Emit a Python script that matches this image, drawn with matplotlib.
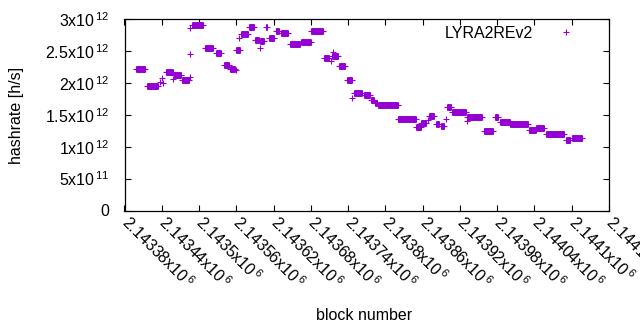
import matplotlib
matplotlib.use("Agg")
import matplotlib.pyplot as plt
from matplotlib.ticker import FuncFormatter, MultipleLocator

plt.rcParams['font.family'] = ['Liberation Sans', 'DejaVu Sans']
plt.rcParams['mathtext.fontset'] = 'custom'
plt.rcParams['mathtext.rm'] = 'Liberation Sans'
plt.rcParams['mathtext.default'] = 'regular'

PURPLE = '#9400d3'
FS = 11.5

# runs of blocks with (almost) the same estimated hashrate
seg_start = [2143398, 2143416, 2143447, 2143460, 2143472, 2143488, 2143509, 2143527,
             2143540, 2143550, 2143560, 2143567, 2143580, 2143590, 2143598, 2143607,
             2143612, 2143624, 2143632, 2143646, 2143664, 2143681, 2143701, 2143714,
             2143726, 2143738, 2143749, 2143765, 2143777, 2143783, 2143788, 2143821,
             2143850, 2143858, 2143871, 2143882, 2143889, 2143899, 2143907, 2143931,
             2143958, 2143977, 2143984, 2144001, 2144032, 2144043, 2144058, 2144090,
             2144100]
seg_end = [2143413, 2143434, 2143458, 2143471, 2143484, 2143507, 2143522, 2143536,
           2143548, 2143558, 2143566, 2143579, 2143588, 2143596, 2143604, 2143609,
           2143620, 2143628, 2143644, 2143662, 2143680, 2143699, 2143709, 2143723,
           2143735, 2143746, 2143763, 2143776, 2143782, 2143786, 2143820, 2143849,
           2143857, 2143866, 2143879, 2143887, 2143895, 2143905, 2143929, 2143955,
           2143974, 2143982, 2144000, 2144029, 2144042, 2144055, 2144088, 2144098,
           2144116]
seg_rate = [2.22e12, 1.955e12, 2.17e12, 2.12e12, 2.05e12, 2.915e12, 2.55e12, 2.47e12,
            2.28e12, 2.225e12, 2.52e12, 2.775e12, 2.875e12, 2.68e12, 2.665e12, 2.875e12,
            2.70e12, 2.81e12, 2.78e12, 2.62e12, 2.64e12, 2.82e12, 2.39e12, 2.43e12,
            2.26e12, 2.05e12, 1.84e12, 1.82e12, 1.73e12, 1.68e12, 1.65e12, 1.43e12,
            1.31e12, 1.37e12, 1.48e12, 1.36e12, 1.33e12, 1.63e12, 1.55e12, 1.47e12,
            1.25e12, 1.46e12, 1.39e12, 1.36e12, 1.27e12, 1.29e12, 1.20e12, 1.11e12,
            1.135e12]

# single outlying blocks
pt_block = [2143437, 2143440, 2143442, 2143458, 2143485, 2143485, 2143486, 2143560,
            2143565, 2143598, 2143713, 2143715, 2143747, 2143868, 2143897, 2143932]
pt_rate = [2.02e12, 2.075e12, 2.0e12, 2.07e12, 2.09e12, 2.45e12, 2.87e12, 2.21e12,
           2.71e12, 2.55e12, 2.34e12, 2.48e12, 1.76e12, 1.42e12, 1.43e12, 1.41e12]

x_ticks = list(range(2143380, 2144161, 60))


def sci(v, pos=None):
    if v == 0:
        return '0'
    e = 0
    m = v
    while abs(m) >= 10:
        m /= 10.0
        e += 1
    return '%gx10$^{\\,%d}$' % (round(m, 5), e)


fig = plt.figure(figsize=(6.4, 3.3), dpi=100)
ax = fig.add_axes([124.5 / 640, 1 - 210.5 / 330, (609 - 124.5) / 640, (210.5 - 19.3) / 330])

for a, b, r in zip(seg_start, seg_end, seg_rate):
    ax.plot([a, b], [r, r], '-', color=PURPLE, lw=5, solid_capstyle='butt',
            marker='+', ms=5, mew=0.8)
ax.plot(pt_block, pt_rate, '+', color=PURPLE, ms=5, mew=0.8, ls='none')

# legend entry only
ax.plot([], [], '+', color=PURPLE, ms=5, mew=0.8, ls='none', label='LYRA2REv2')
ax.legend(loc='upper right', bbox_to_anchor=(0.945, 0.965), markerfirst=False,
          frameon=False, fontsize=FS, handlelength=2.0, handletextpad=1.1,
          borderpad=0, borderaxespad=0)

ax.set_xlim(2143380, 2144160)
ax.set_ylim(0, 3e12)
ax.set_xticks(x_ticks)
ax.xaxis.set_major_formatter(FuncFormatter(lambda v, p: sci(v)))
ax.yaxis.set_major_locator(MultipleLocator(5e11))
ax.yaxis.set_major_formatter(FuncFormatter(sci))

ax.tick_params(direction='in', length=4, width=0.8, top=True, right=True,
               labelsize=FS, colors='black')
ax.tick_params(axis='y', pad=11)
ax.tick_params(axis='x', pad=6)
for lbl in ax.get_xticklabels():
    lbl.set_rotation(-45)
    lbl.set_ha('left')
    lbl.set_va('center')
    lbl.set_rotation_mode('anchor')
for s in ax.spines.values():
    s.set_linewidth(0.9)

fig.text(17 / 640, 1 - 115 / 330, 'hashrate [h/s]', rotation=90, ha='center',
         va='center', fontsize=FS)
fig.text(364 / 640, 1 - 316 / 330, 'block number', ha='center', va='center',
         fontsize=FS)

fig.savefig('out.png', dpi=100)
